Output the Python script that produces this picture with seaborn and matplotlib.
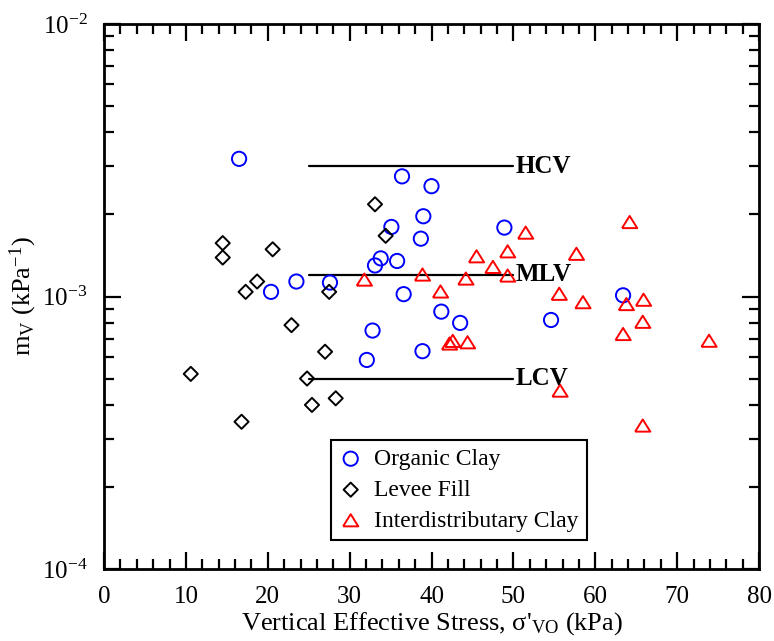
import numpy as np
import pandas as pd
import matplotlib.pyplot as plt
import seaborn as sns
from matplotlib.ticker import MultipleLocator, LogLocator, LogFormatterMathtext, NullFormatter

sns.set_style("ticks")
plt.rcParams["font.family"] = ["Liberation Serif", "DejaVu Serif"]
plt.rcParams["mathtext.fontset"] = "custom"
plt.rcParams["mathtext.rm"] = "Liberation Serif"
plt.rcParams["mathtext.it"] = "Liberation Serif:italic"
plt.rcParams["mathtext.bf"] = "Liberation Serif:bold"
for chave in ["text.color", "axes.labelcolor", "xtick.color", "ytick.color", "axes.edgecolor"]:
    plt.rcParams[chave] = "black"

# valores
organico_x = [16.5, 20.4, 23.5, 27.6, 32.1, 32.8, 33.1, 33.8, 35.1, 35.8, 36.4,
              36.6, 38.7, 38.9, 39.0, 40.0, 41.2, 43.5, 48.9, 54.6, 63.4]
organico_y = [3.2e-3, 1.04e-3, 1.135e-3, 1.125e-3, 5.85e-4, 7.5e-4, 1.30e-3, 1.38e-3,
              1.80e-3, 1.35e-3, 2.76e-3, 1.02e-3, 1.63e-3, 6.3e-4, 1.97e-3, 2.54e-3,
              8.8e-4, 8.0e-4, 1.79e-3, 8.2e-4, 1.01e-3]

dique_x = [10.6, 14.5, 14.5, 16.8, 17.3, 18.7, 20.6, 22.9, 24.8, 25.4, 27.0, 27.5,
           28.3, 33.1, 34.4]
dique_y = [5.2e-4, 1.57e-3, 1.39e-3, 3.47e-4, 1.04e-3, 1.135e-3, 1.49e-3, 7.85e-4,
           5.0e-4, 4.0e-4, 6.27e-4, 1.04e-3, 4.23e-4, 2.18e-3, 1.67e-3]

inter_x = [31.8, 38.9, 41.1, 42.2, 42.6, 44.2, 44.4, 45.5, 47.5, 49.3, 49.3, 51.5,
           55.6, 55.7, 57.7, 58.5, 63.4, 63.8, 64.2, 65.8, 65.8, 65.9, 73.9]
inter_y = [1.15e-3, 1.2e-3, 1.04e-3, 6.7e-4, 6.85e-4, 1.16e-3, 6.77e-4, 1.40e-3,
           1.28e-3, 1.46e-3, 1.19e-3, 1.71e-3, 1.02e-3, 4.5e-4, 1.43e-3, 9.5e-4,
           7.26e-4, 9.35e-4, 1.87e-3, 8.05e-4, 3.35e-4, 9.7e-4, 6.86e-4]

guias_nome = ["HCV", "MLV", "LCV"]
guias_y = [3.0e-3, 1.2e-3, 5.0e-4]
guias_x_ini = 25
guias_x_fim = 50

triangulo = [(-1, -0.75), (0, 0.85), (1, -0.75), (-1, -0.75)]

fig = plt.figure(figsize=(7.74, 6.41), dpi=100)
ax = fig.add_axes([104 / 774, 1 - 569 / 641, 655 / 774, 545 / 641])

sns.scatterplot(x=organico_x, y=organico_y, marker="o", s=105, color="blue",
                facecolor="none", edgecolor="blue", linewidth=1.4,
                label="Organic Clay", ax=ax, zorder=3)
sns.scatterplot(x=dique_x, y=dique_y, marker="D", s=52, color="black",
                facecolor="none", edgecolor="black", linewidth=1.4,
                label="Levee Fill", ax=ax, zorder=3)
sns.scatterplot(x=inter_x, y=inter_y, marker=triangulo, s=120, color="red",
                facecolor="none", edgecolor="red", linewidth=1.4,
                label="Interdistributary Clay", ax=ax, zorder=3)

for nome, yv in zip(guias_nome, guias_y):
    ax.plot([guias_x_ini, guias_x_fim], [yv, yv], color="black", lw=1.6, zorder=2)
    ax.text(guias_x_fim + 0.3, yv, nome, fontsize=18, fontweight="bold",
            va="center", ha="left")

ax.set_yscale("log")
ax.set_xlim(0, 80)
ax.set_ylim(1e-4, 1e-2)
ax.xaxis.set_major_locator(MultipleLocator(10))
ax.xaxis.set_minor_locator(MultipleLocator(2))
ax.yaxis.set_major_locator(LogLocator(base=10, numticks=5))
ax.yaxis.set_major_formatter(LogFormatterMathtext())
ax.yaxis.set_minor_locator(LogLocator(base=10, subs=np.arange(2, 10), numticks=20))
ax.yaxis.set_minor_formatter(NullFormatter())

ax.tick_params(which="both", direction="in", top=True, right=True, width=1.6,
               labelsize=18, pad=12)
ax.tick_params(which="major", length=12)
ax.tick_params(which="minor", length=7)
for sp in ax.spines.values():
    sp.set_linewidth(2)

ax.set_xlabel(r"Vertical Effective Stress, σ'$_\mathrm{VO}$ (kPa)", fontsize=19, labelpad=2)
ax.set_ylabel(r"m$_\mathrm{V}$ (kPa$^\mathrm{-1}$)", fontsize=19, labelpad=2)

leg = ax.legend(loc="lower left", bbox_to_anchor=(0.346, 0.053), fontsize=17,
                frameon=True, fancybox=False, framealpha=1, edgecolor="black",
                borderpad=0.35, labelspacing=0.4, handlelength=1.0,
                handletextpad=0.5, borderaxespad=0)
leg.get_frame().set_linewidth(1.5)

fig.savefig("out.png", dpi=100)
